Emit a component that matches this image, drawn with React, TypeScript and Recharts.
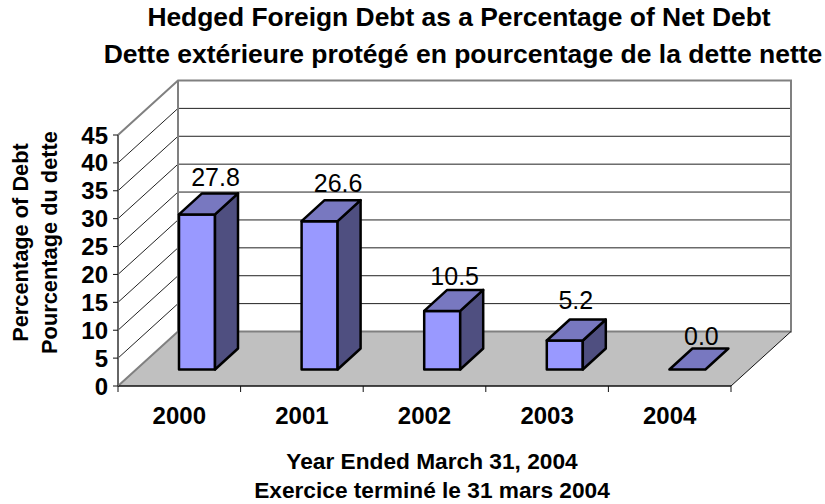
import { Bar, BarChart, LabelList, XAxis, YAxis, usePlotArea } from 'recharts';

const years = ['2000', '2001', '2002', '2003', '2004'];
const hedgedPct = [27.8, 26.6, 10.5, 5.2, 0.0];
const yTicks = [0, 5, 10, 15, 20, 25, 30, 35, 40, 45];
const titleLines = [
  'Hedged Foreign Debt as a Percentage of Net Debt',
  'Dette extérieure protégé en pourcentage de la dette nette',
];
const xTitleLines = ['Year Ended March 31, 2004', 'Exercice terminé le 31 mars 2004'];
const yTitleLines = ['Percentage of Debt', 'Pourcentage du dette'];

const data = years.map((year, i) => ({ year, value: hedgedPct[i] }));

const FONT = '"Liberation Sans", Arial, sans-serif';
// oblique offset of the back wall, and of a bar inside the floor
const WALL_DX = 60;
const WALL_DY = -54.5;
const BAR_DX = 18;
const BAR_DY = -16.5;
const DEPTH_DX = 23;
const DEPTH_DY = -21;
const WALL_GREY = '#808080';
// the value labels do not sit at a constant spot above the boxes
const LABEL_NUDGE: Record<string, [number, number]> = {
  '2000': [18.5, -7],
  '2001': [18.5, -8],
  '2002': [12.5, -5],
  '2003': [11, -10],
  '2004': [14, -4],
};

function Walls() {
  const plot = usePlotArea();
  if (!plot) return null;
  const { x, y, width, height } = plot;
  const yMax = yTicks[yTicks.length - 1];
  const yOf = (v: number) => y + height * (1 - v / yMax);
  const bottom = y + height;
  const right = x + width;
  const step = width / years.length;
  return (
    <g>
      <polygon
        points={`${x},${bottom} ${x + WALL_DX},${bottom + WALL_DY} ${right + WALL_DX},${bottom + WALL_DY} ${right},${bottom}`}
        fill="#c0c0c0"
      />
      {yTicks.slice(1, -1).map((t) => (
        <g key={t} stroke="#222" strokeWidth={1}>
          <line x1={x} y1={yOf(t)} x2={x + WALL_DX} y2={yOf(t) + WALL_DY} />
          <line x1={x + WALL_DX} y1={yOf(t) + WALL_DY} x2={right + WALL_DX} y2={yOf(t) + WALL_DY} />
        </g>
      ))}
      <polyline
        points={`${x},${bottom} ${x + WALL_DX},${bottom + WALL_DY} ${right + WALL_DX},${bottom + WALL_DY} ${right + WALL_DX},${y + WALL_DY} ${x + WALL_DX},${y + WALL_DY} ${x},${y}`}
        fill="none"
        stroke={WALL_GREY}
        strokeWidth={2}
      />
      <line x1={x + WALL_DX} y1={bottom + WALL_DY} x2={x + WALL_DX} y2={y + WALL_DY} stroke={WALL_GREY} strokeWidth={2} />
      <line x1={right} y1={bottom} x2={right + WALL_DX} y2={bottom + WALL_DY} stroke="#111" strokeWidth={1} />
      {years.concat('').map((_, i) => (
        <line key={i} x1={x + i * step} y1={bottom} x2={x + i * step} y2={bottom + 6} stroke="#111" strokeWidth={1} />
      ))}
    </g>
  );
}

function Box(props: any) {
  const { x, y, width, height } = props;
  const fx = x + BAR_DX;
  const fy = y + BAR_DY;
  const fr = fx + width;
  const fb = fy + height;
  const dx = DEPTH_DX;
  const dy = DEPTH_DY;
  return (
    <g stroke="#000" strokeWidth={2.5} strokeLinejoin="round">
      {height > 0 && <rect x={fx} y={fy} width={width} height={height} fill="#9999ff" />}
      {height > 0 && (
        <polygon points={`${fr},${fy} ${fr + dx},${fy + dy} ${fr + dx},${fb + dy} ${fr},${fb}`} fill="#4f4f80" />
      )}
      <polygon points={`${fx},${fy} ${fx + dx},${fy + dy} ${fr + dx},${fy + dy} ${fr},${fy}`} fill="#7878c0" />
    </g>
  );
}

function ValueLabel(props: any) {
  const { x, y, width, value, index } = props;
  const [nx, ny] = LABEL_NUDGE[years[index]];
  return (
    <text
      x={x + width / 2 + BAR_DX + nx}
      y={y + BAR_DY + DEPTH_DY + ny}
      textAnchor="middle"
      fontFamily={FONT}
      fontSize={25}
      fill="#000"
    >
      {Number(value).toFixed(1)}
    </text>
  );
}

function Titles() {
  return (
    <g fontFamily={FONT} fontWeight="bold" fill="#000" textAnchor="middle">
      <text x={459} y={26} fontSize={26.4}>{titleLines[0]}</text>
      <text x={463} y={63} fontSize={26.5}>{titleLines[1]}</text>
      <text x={432} y={469} fontSize={22.7}>{xTitleLines[0]}</text>
      <text x={432} y={498} fontSize={22.7}>{xTitleLines[1]}</text>
      <text transform="translate(28,242.5) rotate(-90)" fontSize={21.8}>{yTitleLines[0]}</text>
      <text transform="translate(57,242.5) rotate(-90)" fontSize={21.8}>{yTitleLines[1]}</text>
    </g>
  );
}

export default function App() {
  return (
    <div style={{ position: 'absolute', left: 0, top: 0, width: 825, height: 504, background: '#fff' }}>
      <BarChart
        width={825}
        height={504}
        data={data}
        margin={{ top: 135, right: 94, bottom: 78, left: 0 }}
        barSize={36}
      >
        <Walls />
        <XAxis
          dataKey="year"
          height={40}
          axisLine={{ stroke: '#111', strokeWidth: 1.5 }}
          tickLine={false}
          tick={{ fontFamily: FONT, fontWeight: 'bold', fontSize: 24, fill: '#000' }}
          tickMargin={15}
          interval={0}
        />
        <YAxis
          width={118}
          domain={[0, 45]}
          ticks={yTicks}
          interval={0}
          axisLine={{ stroke: '#666', strokeWidth: 2 }}
          tickLine={{ stroke: '#111' }}
          tickSize={5}
          tickMargin={5}
          tick={{ fontFamily: FONT, fontWeight: 'bold', fontSize: 24, fill: '#000' }}
        />
        <Bar dataKey="value" shape={Box} isAnimationActive={false}>
          <LabelList dataKey="value" content={ValueLabel} />
        </Bar>
        <Titles />
      </BarChart>
    </div>
  );
}
